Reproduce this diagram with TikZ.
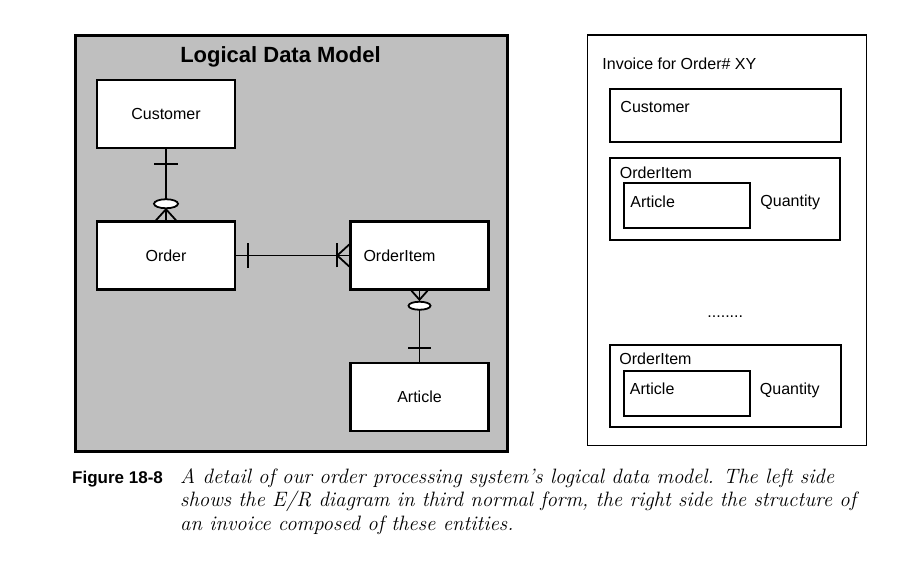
\documentclass[tikz,border=0pt]{standalone}
\usepackage{fontspec}
\newfontfamily\labelfont{Liberation Sans}
\usetikzlibrary{calc}
\usetikzlibrary{positioning}

\begin{document}
\begin{tikzpicture}[x=1pt,y=1pt]
	\tikzstyle{panel} = [draw, line width=3pt, fill=black!25, minimum width=432pt, minimum height=415pt]
	\tikzstyle{entity} = [draw, line width=2.5pt, fill=white, minimum width=138pt, minimum height=68pt, font=\labelfont\fontsize{16}{19}\selectfont]
	\tikzstyle{relation} = [draw, line width=1.8pt]
	\tikzstyle{invpanel} = [draw, line width=1.5pt, minimum width=279pt, minimum height=410pt]
	\tikzstyle{invbox} = [draw, line width=2pt]
	\tikzstyle{textlabel} = [inner sep=0pt, font=\labelfont\fontsize{16}{19}\selectfont]
	\tikzstyle{captext} = [anchor=base west, inner sep=0pt, font=\fontsize{20.8}{24}\selectfont\itshape]

	\useasboundingbox (0,0) rectangle (907,571);

	\node[panel] (DataModel) at (291,327.5) {};
	\node[anchor=base, font=\labelfont\bfseries\fontsize{22}{26}\selectfont] (DataModelTitle) at (280.5,508) {Logical Data Model};

	\node[entity] (Customer) at (166,457) {Customer};
	\node[entity, below=71pt of Customer] (Order) {Order};
	\node[entity, right=113pt of Order, text width=112pt, inner xsep=13pt, align=left] (OrderItem) {OrderItem};
	\node[entity, below=71pt of OrderItem] (Article) {Article};

	\draw[relation] (Customer) -- (Order);
	\draw[relation] ($(Customer.south)+(-12pt,-15pt)$) -- ++(24pt,0);
	\draw[relation] ($(Order.north)+(-10pt,0)$) -- ($(Order.north)+(0,11pt)$) -- ($(Order.north)+(10pt,0)$);
	\draw[relation, fill=white] ($(Order.north)+(0,16.5pt)$) ellipse [x radius=12pt, y radius=4.5pt];

	\draw[relation] (Order) -- (OrderItem);
	\draw[relation] ($(Order.east)+(12pt,-12.5pt)$) -- ++(0,25pt);
	\draw[relation] ($(OrderItem.west)+(-12pt,-12pt)$) -- ++(0,24pt);
	\draw[relation] ($(OrderItem.west)+(0,11pt)$) -- ($(OrderItem.west)+(-12pt,0)$) -- ($(OrderItem.west)+(0,-11pt)$);

	\draw[relation] (OrderItem) -- (Article);
	\draw[relation] ($(OrderItem.south)+(-8pt,0)$) -- ($(OrderItem.south)+(0,-9pt)$) -- ($(OrderItem.south)+(8pt,0)$);
	\draw[relation, fill=white] ($(OrderItem.south)+(0,-15pt)$) ellipse [x radius=11pt, y radius=4pt];
	\draw[relation] ($(Article.north)+(-11.5pt,14pt)$) -- ++(23pt,0);

	\node[invpanel] (Invoice) at (727,330.75) {};
	\node[textlabel, anchor=west] (InvoiceTitle) at ($(Invoice.north west)+(15.5pt,-29.5pt)$) {Invoice for Order\# XY};
	\node[invbox, anchor=north west, minimum width=231pt, minimum height=53pt] (InvCustomer) at ($(Invoice.north west)+(22pt,-54pt)$) {};
	\node[textlabel, anchor=north west] (InvCustomerText) at ($(InvCustomer.north west)+(11.5pt,-13pt)$) {Customer};

	\node[invbox, below=14pt of InvCustomer, minimum width=230pt, minimum height=82pt] (Item1) {};
	\node[textlabel, anchor=north west] (Item1Text) at ($(Item1.north west)+(10.5pt,-9pt)$) {OrderItem};
	\node[invbox, anchor=north west, minimum width=126pt, minimum height=45pt] (Article1) at ($(Item1.north west)+(14pt,-24.5pt)$) {};
	\node[textlabel, anchor=west] (Article1Text) at ($(Article1.west)+(7pt,4pt)$) {Article};
	\node[textlabel, right=9pt of Article1, yshift=3pt] (Quantity1) {Quantity};

	\node[textlabel, anchor=base] (Dots) at ($(Item1.south)+(0,-76pt)$) {........};

	\node[invbox, below=102pt of Item1, minimum width=231pt, minimum height=82pt] (Item2) {};
	\node[textlabel, anchor=north west] (Item2Text) at ($(Item2.north west)+(10.5pt,-9pt)$) {OrderItem};
	\node[invbox, anchor=north west, minimum width=126pt, minimum height=45pt] (Article2) at ($(Item2.north west)+(14pt,-26pt)$) {};
	\node[textlabel, anchor=west] (Article2Text) at ($(Article2.west)+(7pt,4pt)$) {Article};
	\node[textlabel, right=9pt of Article2, yshift=3pt] (Quantity2) {Quantity};

	\node[anchor=base west, inner sep=0pt, font=\labelfont\bfseries\fontsize{17}{20}\selectfont] (FigureNumber) at (72,88) {Figure 18-8};
	\node[captext] (CaptionLine1) at (180,88) {A detail of our order processing system's logical data model. The left side};
	\node[captext] (CaptionLine2) at (180,64.5) {shows the E/R diagram in third normal form, the right side the structure of};
	\node[captext] (CaptionLine3) at (180,41) {an invoice composed of these entities.};
\end{tikzpicture}
\end{document}
